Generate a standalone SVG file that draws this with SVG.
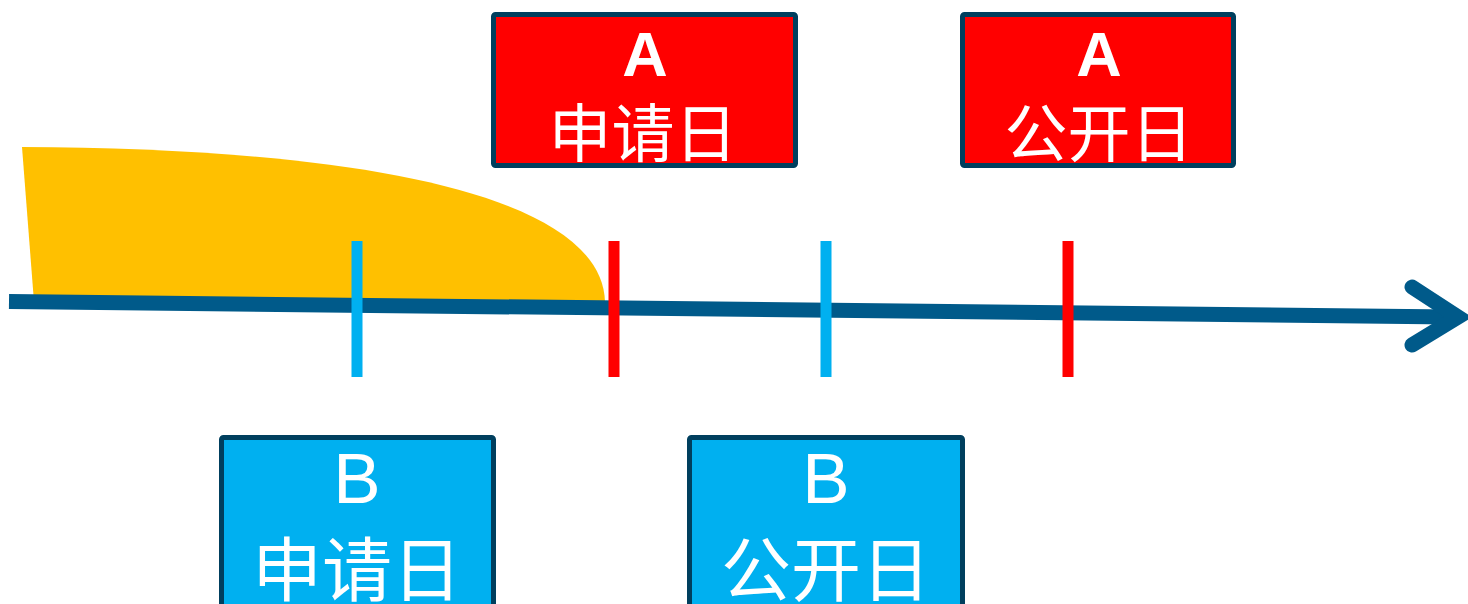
<svg xmlns="http://www.w3.org/2000/svg" width="1468" height="604" viewBox="0 0 1468 604">
  <style>
    .box { stroke: #003F5E; stroke-width: 5; }
    .a { fill: #FF0000; }
    .b { fill: #00B0F0; }
    .lat { font-family: "Liberation Sans", Arial, sans-serif; fill: #FFFFFF; text-anchor: middle; }
    .cjk { font-family: "Liberation Serif", "Noto Sans CJK SC", serif; fill: #FFFFFF; text-anchor: middle; }
    .tick { stroke-width: 11; }
  </style>
  <rect width="1468" height="604" fill="#FFFFFF"/>
  <g id="priority-area">
    <path d="M22,147 C340,148 602,190 605,302 L34,302 Z" fill="#FFC000"/>
  </g>
  <g id="connectors">
    <line x1="9" y1="301.5" x2="1452" y2="317" stroke="#005A8A" stroke-width="15"/>
    <path d="M1412,287 L1458,317 L1412,345" fill="none" stroke="#005A8A" stroke-width="15" stroke-linecap="round" stroke-linejoin="miter"/>
    <line class="tick" x1="357" y1="241" x2="357" y2="377" stroke="#00B0F0"/>
    <line class="tick" x1="614" y1="241" x2="614" y2="377" stroke="#FF0000"/>
    <line class="tick" x1="826" y1="241" x2="826" y2="377" stroke="#00B0F0"/>
    <line class="tick" x1="1068" y1="241" x2="1068" y2="377" stroke="#FF0000"/>
  </g>
  <g id="a-filing">
    <rect class="box a" x="493.5" y="14.5" width="302" height="151" rx="2"/>
    <text class="lat" x="645" y="76" font-size="63" font-weight="bold">A</text>
    <text class="cjk" x="643" y="156" font-size="63">申请日</text>
  </g>
  <g id="a-publication">
    <rect class="box a" x="962.5" y="14.5" width="271" height="151" rx="2"/>
    <text class="lat" x="1099" y="76" font-size="63" font-weight="bold">A</text>
    <text class="cjk" x="1099" y="156" font-size="63">公开日</text>
  </g>
  <g id="b-filing">
    <rect class="box b" x="221.5" y="437.5" width="272" height="200" rx="2"/>
    <text class="lat" x="357" y="503" font-size="71">B</text>
    <text class="cjk" x="357" y="596" font-size="70">申请日</text>
  </g>
  <g id="b-publication">
    <rect class="box b" x="689.5" y="437.5" width="273" height="200" rx="2"/>
    <text class="lat" x="826" y="503" font-size="71">B</text>
    <text class="cjk" x="826" y="596" font-size="70">公开日</text>
  </g>
</svg>
